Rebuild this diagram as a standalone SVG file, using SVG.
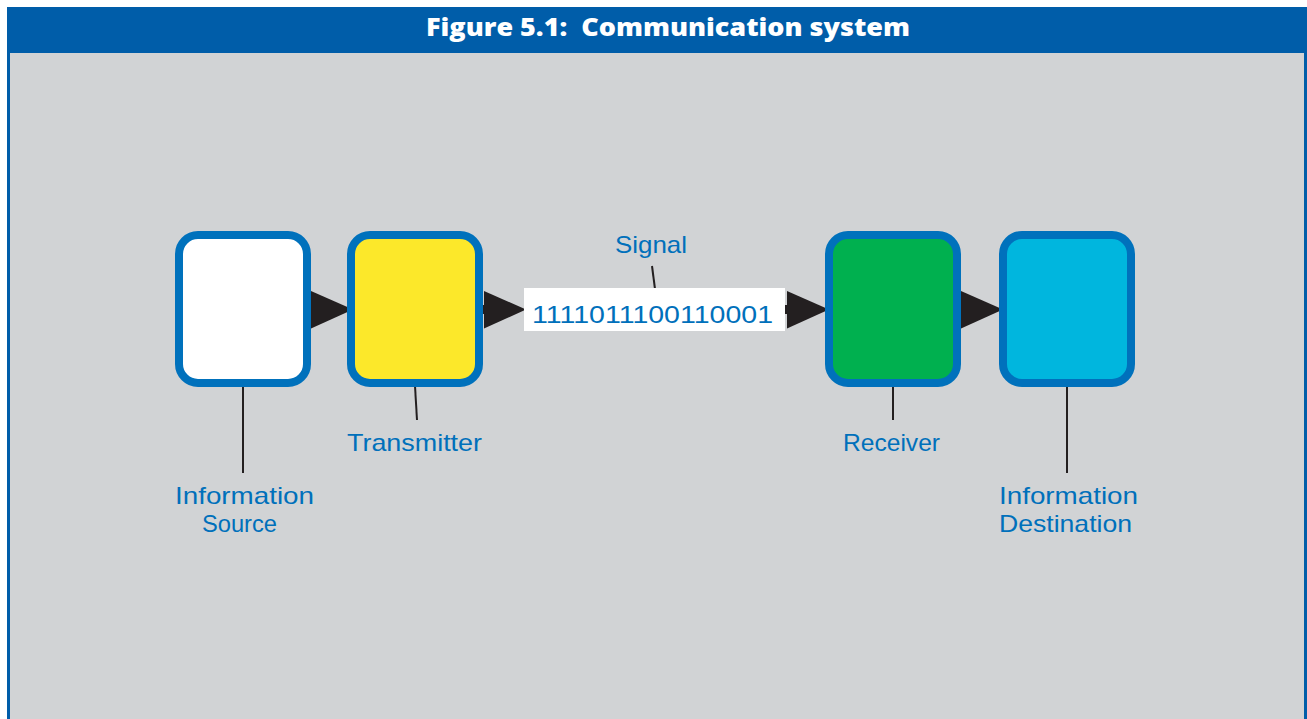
<svg xmlns="http://www.w3.org/2000/svg" width="1307" height="719" viewBox="0 0 1307 719">
  <style>
    .box { stroke: #0071bc; stroke-width: 8; }
    .lbl { font-family: "Liberation Sans", Arial, sans-serif; font-size: 24px; fill: #0070bb; }
    .lead { stroke: #231f20; stroke-width: 2; fill: none; }
    .stub { fill: #231f20; }
    .head { fill: #231f20; }
  </style>
  <defs>
    <!-- arrow: short square stub followed by a solid triangle, tip at origin -->
    <g id="arrow">
      <rect class="stub" x="-47" y="-4.5" width="8" height="9"/>
      <polygon class="head" points="-42,-18.5 0,0 -42,19"/>
    </g>
  </defs>

  <!-- frame -->
  <rect x="0" y="0" width="1307" height="719" fill="#ffffff"/>
  <rect x="7" y="53" width="1300" height="666" fill="#d1d3d5"/>
  <rect x="7" y="53" width="3" height="666" fill="#005da9"/>
  <rect x="1304" y="53" width="3" height="666" fill="#005da9"/>
  <rect x="7" y="7" width="1300" height="46" fill="#005da9"/>
  <text x="426" y="36" textLength="484" lengthAdjust="spacingAndGlyphs" xml:space="preserve" font-family="'Open Sans', 'DejaVu Sans', sans-serif" font-weight="800" font-size="25" fill="#ffffff">Figure 5.1:  Communication system</text>

  <!-- connectors -->
  <g id="connectors">
    <use href="#arrow" x="353" y="309.5"/>
    <use href="#arrow" x="526" y="309.5"/>
    <use href="#arrow" x="829" y="309.5"/>
    <use href="#arrow" x="1003" y="309.5"/>
    <line class="lead" x1="243" y1="386" x2="243" y2="473"/>
    <line class="lead" x1="415" y1="386" x2="417" y2="420"/>
    <line class="lead" x1="652" y1="266" x2="655" y2="289"/>
    <line class="lead" x1="893" y1="386" x2="893" y2="420"/>
    <line class="lead" x1="1067" y1="386" x2="1067" y2="473"/>
  </g>

  <!-- nodes -->
  <g id="source">
    <rect class="box" x="179" y="235" width="128" height="148" rx="19" fill="#ffffff"/>
    <text class="lbl" x="175" y="504" textLength="139" lengthAdjust="spacingAndGlyphs">Information</text>
    <text class="lbl" x="202" y="532" textLength="75" lengthAdjust="spacingAndGlyphs">Source</text>
  </g>
  <g id="transmitter">
    <rect class="box" x="351" y="235" width="128" height="148" rx="19" fill="#fce82a"/>
    <text class="lbl" x="347" y="451" textLength="135" lengthAdjust="spacingAndGlyphs">Transmitter</text>
  </g>
  <g id="signal">
    <rect x="524" y="288" width="261" height="43" fill="#ffffff"/>
    <text class="lbl" x="532" y="323" font-size="26" textLength="241" lengthAdjust="spacingAndGlyphs">1111011100110001</text>
    <text class="lbl" x="615" y="253" textLength="72" lengthAdjust="spacingAndGlyphs">Signal</text>
  </g>
  <g id="receiver">
    <rect class="box" x="829" y="235" width="128" height="148" rx="19" fill="#00b04f"/>
    <text class="lbl" x="843" y="451" textLength="97" lengthAdjust="spacingAndGlyphs">Receiver</text>
  </g>
  <g id="destination">
    <rect class="box" x="1003" y="235" width="128" height="148" rx="19" fill="#00b6de"/>
    <text class="lbl" x="999" y="504" textLength="139" lengthAdjust="spacingAndGlyphs">Information</text>
    <text class="lbl" x="999" y="532" textLength="133" lengthAdjust="spacingAndGlyphs">Destination</text>
  </g>
</svg>
